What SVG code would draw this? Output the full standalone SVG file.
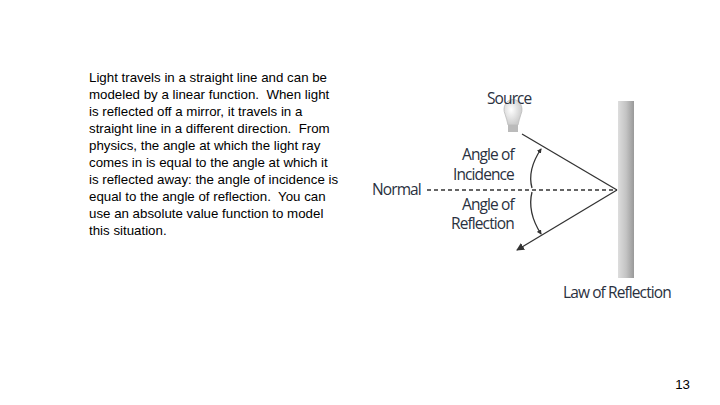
<svg xmlns="http://www.w3.org/2000/svg" width="720" height="405" viewBox="0 0 720 405">
<defs>
<style>
.t{font-family:"Liberation Sans",Arial,sans-serif;font-size:13.3px;fill:#000;white-space:pre}
.l{font-family:"Open Sans","DejaVu Sans",sans-serif;font-size:15.5px;fill:#2a3140;letter-spacing:-0.9px}
.ln{stroke:#333;stroke-width:1.3;fill:none}
</style>
<linearGradient id="m" x1="0" x2="1"><stop offset="0" stop-color="#ddd"/><stop offset="0.5" stop-color="#c4c4c4"/><stop offset="1" stop-color="#999"/></linearGradient>
<radialGradient id="b" cx="0.4" cy="0.4" r="0.6"><stop offset="0" stop-color="#fff"/><stop offset="1" stop-color="#ccc"/></radialGradient>
<marker id="a" markerWidth="8" markerHeight="8" refX="7" refY="4" orient="auto" markerUnits="userSpaceOnUse"><path d="M0,0 L8,4 L0,8 Z" fill="#333"/></marker>
<marker id="s" markerWidth="5" markerHeight="5" refX="4" refY="2.5" orient="auto" markerUnits="userSpaceOnUse"><path d="M0,0 L5,2.5 L0,5 Z" fill="#333"/></marker>
</defs>
<rect width="720" height="405" fill="#fff"/>
<g id="text">
<text class="t" x="89" y="82">Light travels in a straight line and can be</text>
<text class="t" x="89" y="99">modeled by a linear function.  When light</text>
<text class="t" x="89" y="116">is reflected off a mirror, it travels in a</text>
<text class="t" x="89" y="133">straight line in a different direction.  From</text>
<text class="t" x="89" y="150">physics, the angle at which the light ray</text>
<text class="t" x="89" y="167">comes in is equal to the angle at which it</text>
<text class="t" x="89" y="184">is reflected away: the angle of incidence is</text>
<text class="t" x="89" y="201">equal to the angle of reflection.  You can</text>
<text class="t" x="89" y="218">use an absolute value function to model</text>
<text class="t" x="89" y="235">this situation.</text>
</g>
<g id="mirror"><rect x="618" y="101" width="16" height="177" fill="url(#m)"/></g>
<g id="source">
<path d="M505,114 a9,10 0 1 1 16,0 q-2,6 -3,11 h-10 q-1,-5 -3,-11z" fill="url(#b)" stroke="#bbb" stroke-width="0.8"/>
<rect x="508" y="125" width="10" height="7" fill="#bbb"/>
<text class="l" x="487" y="104">Source</text>
</g>
<g id="labels">
<text class="l" x="462" y="160">Angle of</text>
<text class="l" x="453" y="180">Incidence</text>
<text class="l" x="372" y="195">Normal</text>
<text class="l" x="462" y="210">Angle of</text>
<text class="l" x="451" y="229">Reflection</text>
<text class="l" x="563" y="298">Law of Reflection</text>
</g>
<g id="connectors">
<line class="ln" x1="522" y1="134" x2="617" y2="190"/>
<line class="ln" x1="617" y1="190" x2="517" y2="250" marker-end="url(#a)"/>
<line class="ln" x1="427" y1="190" x2="617" y2="190" stroke-dasharray="4,3" stroke-width="1"/>
<path class="ln" d="M532,188 Q527,170 541,149" marker-end="url(#s)" stroke-width="1"/>
<path class="ln" d="M532,192 Q527,212 541,234" marker-end="url(#s)" stroke-width="1"/>
</g>
<g id="page"><text class="t" x="690" y="389" text-anchor="end">13</text></g>
</svg>
